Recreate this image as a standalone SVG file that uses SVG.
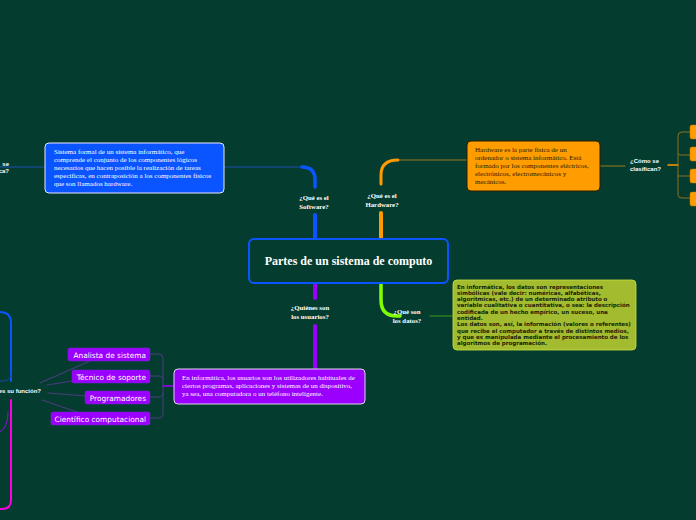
<svg xmlns="http://www.w3.org/2000/svg" width="696" height="520" viewBox="0 0 696 520">
<style>
.bg{fill:#043d2f}
.lbl{font-family:"Liberation Serif",serif;font-weight:bold;font-size:6.8px;fill:#ffffff;text-anchor:middle}
.lbls{font-family:"Liberation Sans",sans-serif;font-weight:bold;font-size:6px;fill:#ffffff}
.ser{font-family:"Liberation Serif",serif;font-size:7px}
.pill{fill:#9b00ff;stroke:#7a2ad0;stroke-width:0.5}
.pilltxt{font-family:"DejaVu Sans",sans-serif;font-size:7.4px;fill:#ffffff;text-anchor:end}
.ob{fill:#ff9c00;stroke:#c87800;stroke-width:0.5}
</style>
<rect class="bg" x="0" y="0" width="696" height="520"/>
<g id="connectors" fill="none" stroke-linecap="round">
  <path d="M0,167 H45" stroke="#1a4fb0" stroke-width="1"/>
  <path d="M224,167 H303" stroke="#1a4fb0" stroke-width="1"/>
  <path d="M302,167 Q315,167 315,180 V187" stroke="#0a55ff" stroke-width="3.5"/>
  <path d="M315,215 V239" stroke="#0a55ff" stroke-width="4"/>
  <path d="M400,160 H467" stroke="#9a7a1c" stroke-width="1"/>
  <path d="M398,160 Q381,160 381,175 V184" stroke="#ff9a00" stroke-width="3"/>
  <path d="M381,213 V239" stroke="#ff9a00" stroke-width="4"/>
  <path d="M600,166 H625" stroke="#9a7a1c" stroke-width="1"/>
  <path d="M668,165 H678" stroke="#ff9a00" stroke-width="1.5"/>
  <path d="M690,132 H682 Q678,132 678,136 V195 Q678,198 682,198 H690 M678,154 Q678,155 682,155 H690 M678,176 Q678,176 682,176 H690" stroke="#8a7020" stroke-width="1"/>
  <path d="M381,283 V300 Q381,316 397,316 H400" stroke="#80ff00" stroke-width="3.5"/>
  <path d="M430,316 H455" stroke="#3e9a1c" stroke-width="1"/>
  <path d="M315,283 V298" stroke="#9b00ff" stroke-width="4"/>
  <path d="M315,326 V369" stroke="#9b00ff" stroke-width="4"/>
  <path d="M174,386 H163" stroke="#9b00ff" stroke-width="1.5"/>
  <path d="M150,354 H159 Q163,354 163,358 V414 Q163,418 159,418 H150 M150,376 H159 Q163,376 163,380 M150,397 H159 Q163,397 163,393" stroke="#4a3c7c" stroke-width="1"/>
  <path d="M40,383 L90,361 M47,385 L72,381 M48,393 L86,396 M42,400 L77,412" stroke="#4a3c7c" stroke-width="1.2"/>
  <path d="M0,312 Q11,312 11,323 V381" stroke="#0a55ff" stroke-width="2"/>
  <path d="M11,375 Q10,381 3,381 H0" stroke="#1a40b0" stroke-width="1"/>
  <path d="M11,400 V500 Q11,509 2,509 H0" stroke="#ff00e0" stroke-width="2"/>
  <path d="M8,412 Q8,428 0,432" stroke="#7a1ad0" stroke-width="1"/>
</g>
<g id="central">
  <rect x="249" y="239" width="199" height="44" rx="5" fill="#043d2f" stroke="#0a55ff" stroke-width="2"/>
  <text x="348.5" y="265" font-family="Liberation Serif,serif" font-weight="bold" font-size="12" fill="#ffffff" text-anchor="middle">Partes de un sistema de computo</text>
</g>
<g id="lbl-software"><text class="lbl" x="314" y="200">¿Qué es el</text><text class="lbl" x="314" y="208.5">Software?</text></g>
<g id="lbl-hardware"><text class="lbl" x="382" y="198">¿Qué es el</text><text class="lbl" x="382" y="206.5">Hardware?</text></g>
<g id="lbl-usuarios"><text class="lbl" x="310" y="310">¿Quiénes son</text><text class="lbl" x="310" y="318.5">los usuarios?</text></g>
<g id="lbl-datos"><text class="lbl" x="407" y="314">¿Qué son</text><text class="lbl" x="407" y="322.5">los datos?</text></g>
<g id="lbl-left-top"><text class="lbls" x="9" y="166" text-anchor="end">se</text><text class="lbls" x="9" y="173" text-anchor="end">ca?</text></g>
<g id="lbl-funcion"><text class="lbls" x="41" y="393" text-anchor="end" font-family="Liberation Serif,serif">es su función?</text></g>
<g id="lbl-clasifican"><text class="lbls" x="630" y="163">¿Cómo se</text><text class="lbls" x="630" y="171">clasifican?</text></g>
<g id="software-box">
  <rect x="45" y="143" width="179" height="50" rx="4" fill="#0a55ff" stroke="#e8e8ff" stroke-width="1"/>
  <text class="ser" fill="#ffffff"><tspan x="54" y="154">Sistema formal de un sistema informático, que</tspan><tspan x="54" y="162">comprende el conjunto de los componentes lógicos</tspan><tspan x="54" y="170">necesarios que hacen posible la realización de tareas</tspan><tspan x="54" y="178">específicas, en contraposición a los componentes físicos</tspan><tspan x="54" y="186">que son llamados hardware.</tspan></text>
</g>
<g id="hardware-box">
  <rect x="467" y="141" width="133" height="50" rx="4" fill="#ff9c00" stroke="#2a1a00" stroke-width="1"/>
  <text class="ser" fill="#2a1a00"><tspan x="475" y="152">Hardware es la parte física de un</tspan><tspan x="475" y="160">ordenador o sistema informático. Está</tspan><tspan x="475" y="168">formado por los componentes eléctricos,</tspan><tspan x="475" y="176">electrónicos, electromecánicos y</tspan><tspan x="475" y="184">mecánicos.</tspan></text>
</g>
<g id="hw-type-1"><rect class="ob" x="690" y="125" width="12" height="14" rx="2"/></g>
<g id="hw-type-2"><rect class="ob" x="690" y="147" width="12" height="14" rx="2"/></g>
<g id="hw-type-3"><rect class="ob" x="690" y="169" width="12" height="14" rx="2"/></g>
<g id="hw-type-4"><rect class="ob" x="690" y="192" width="12" height="14" rx="2"/></g>
<g id="datos-box">
  <rect x="453" y="280" width="183" height="70" rx="4" fill="#a2bb2f" stroke="#c8e040" stroke-width="0.8"/>
  <text font-family="DejaVu Sans,sans-serif" font-weight="bold" font-size="5.5" fill="#1a2208"><tspan x="457" y="288.5">En informática, los datos son representaciones</tspan><tspan x="457" y="294.8">simbólicas (vale decir: numéricas, alfabéticas,</tspan><tspan x="457" y="301.1">algorítmicas, etc.) de un determinado atributo o</tspan><tspan x="457" y="307.4">variable cualitativa o cuantitativa, o sea: la descripción</tspan><tspan x="457" y="313.7">codificada de un hecho empírico, un suceso, una</tspan><tspan x="457" y="320">entidad.</tspan><tspan x="457" y="326.3">Los datos son, así, la información (valores o referentes)</tspan><tspan x="457" y="332.6">que recibe el computador a través de distintos medios,</tspan><tspan x="457" y="338.9">y que es manipulada mediante el procesamiento de los</tspan><tspan x="457" y="345.2">algoritmos de programación.</tspan></text>
</g>
<g id="usuarios-box">
  <rect x="174" y="369" width="191" height="35" rx="4" fill="#9b00ff" stroke="#d8d8e8" stroke-width="1"/>
  <text class="ser" fill="#ffffff"><tspan x="182" y="380">En informática, los usuarios son los utilizadores habituales de</tspan><tspan x="182" y="388">ciertos programas, aplicaciones y sistemas de un dispositivo,</tspan><tspan x="182" y="396">ya sea, una computadora o un teléfono inteligente.</tspan></text>
</g>
<g id="analista"><rect class="pill" x="68" y="348" width="82" height="13" rx="2"/><text class="pilltxt" x="146" y="357.5">Analista de sistema</text></g>
<g id="tecnico"><rect class="pill" x="72" y="370" width="78" height="13" rx="2"/><text class="pilltxt" x="146" y="379.5">Técnico de soporte</text></g>
<g id="programadores"><rect class="pill" x="85" y="391" width="65" height="13" rx="2"/><text class="pilltxt" x="146" y="400.5">Programadores</text></g>
<g id="cientifico"><rect class="pill" x="51" y="412" width="99" height="13" rx="2"/><text class="pilltxt" x="146" y="421.5">Científico computacional</text></g>
</svg>
